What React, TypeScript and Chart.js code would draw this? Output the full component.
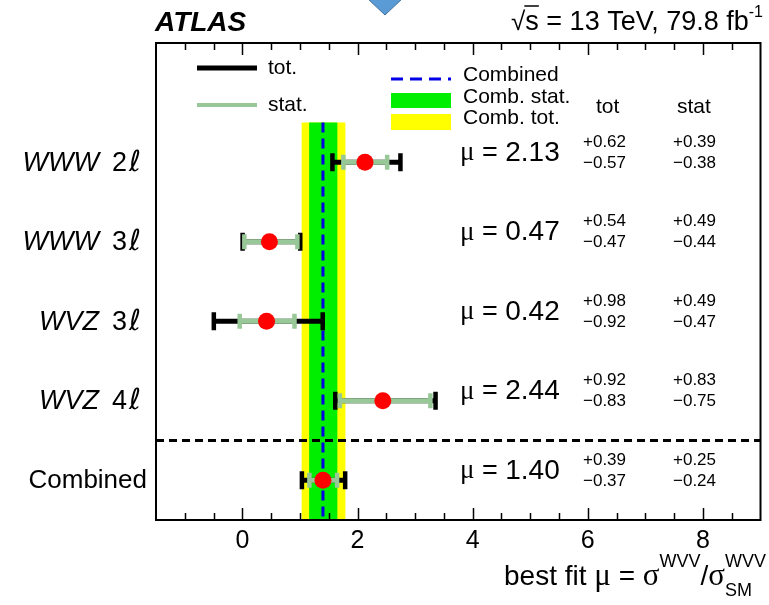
import React, { useEffect, useRef } from 'react';
import { Chart, registerables } from 'chart.js';

Chart.register(...registerables);

// Signal-strength fits per channel (rows from top to bottom)
const channels = ['WWW', 'WWW', 'WVZ', 'WVZ', 'Combined'];
const leptonCounts = ['2', '3', '3', '4', ''];
const rowPos = [4.5, 3.5, 2.5, 1.5, 0.5];
const muValues = [2.13, 0.47, 0.42, 2.44, 1.4];
const totUp = [0.62, 0.54, 0.98, 0.92, 0.39];
const totDown = [0.57, 0.47, 0.92, 0.83, 0.37];
const statUp = [0.39, 0.49, 0.49, 0.83, 0.25];
const statDown = [0.38, 0.44, 0.47, 0.75, 0.24];
const xTicks = [0, 2, 4, 6, 8];
const combinedIndex = 4;
const separatorY = 1;
const bandTop = 5;

const SANS = '"Liberation Sans", Arial, Helvetica, sans-serif';
const SERIF = '"Liberation Serif", "Times New Roman", serif';
const SCRIPT = '"DejaVu Serif", "DejaVu Sans", serif';

const GREEN_BAND = '#00ee00';
const YELLOW_BAND = '#ffff00';
const STAT_COLOR = '#98c898';
const COMB_LINE = '#0000e6';

type Run = { text: string; font: string; dy?: number };

function drawRuns(ctx: CanvasRenderingContext2D, x: number, y: number, runs: Run[], align: 'left' | 'right') {
  ctx.save();
  ctx.textBaseline = 'middle';
  ctx.textAlign = 'left';
  ctx.fillStyle = '#000';
  const widths = runs.map((r) => {
    ctx.font = r.font;
    return ctx.measureText(r.text).width;
  });
  const total = widths.reduce((a, b) => a + b, 0);
  let cx = align === 'right' ? x - total : x;
  const starts: number[] = [];
  runs.forEach((r, i) => {
    ctx.font = r.font;
    starts.push(cx);
    ctx.fillText(r.text, cx, y + (r.dy || 0));
    cx += widths[i];
  });
  ctx.restore();
  return { starts, widths };
}

const fmt = (v: number) => v.toFixed(2);

// Combined bands, separator and per-channel error bars
const bandsAndBars = {
  id: 'bandsAndBars',
  beforeDatasetsDraw(chart: Chart) {
    const { ctx, chartArea } = chart;
    const xs = chart.scales.x;
    const ys = chart.scales.y;
    const c = combinedIndex;
    const yB = ys.getPixelForValue(0);
    const yT = ys.getPixelForValue(bandTop);
    ctx.save();
    // total band
    const tl = xs.getPixelForValue(muValues[c] - totDown[c]);
    const tr = xs.getPixelForValue(muValues[c] + totUp[c]);
    ctx.fillStyle = YELLOW_BAND;
    ctx.fillRect(tl, yT, tr - tl, yB - yT);
    // stat band
    const sl = xs.getPixelForValue(muValues[c] - statDown[c]);
    const sr = xs.getPixelForValue(muValues[c] + statUp[c]);
    ctx.fillStyle = GREEN_BAND;
    ctx.fillRect(sl, yT, sr - sl, yB - yT);
    // combined central value
    const cx = xs.getPixelForValue(muValues[c]);
    ctx.strokeStyle = COMB_LINE;
    ctx.lineWidth = 3;
    ctx.setLineDash([10, 6]);
    ctx.beginPath();
    ctx.moveTo(cx, yT);
    ctx.lineTo(cx, yB);
    ctx.stroke();
    // separator above the combined row
    const sy = ys.getPixelForValue(separatorY);
    ctx.strokeStyle = '#000';
    ctx.lineWidth = 3;
    ctx.setLineDash([8, 5]);
    ctx.beginPath();
    ctx.moveTo(chartArea.left, sy);
    ctx.lineTo(chartArea.right, sy);
    ctx.stroke();
    ctx.setLineDash([]);

    // error bars
    muValues.forEach((mu, i) => {
      const y = ys.getPixelForValue(rowPos[i]);
      const lo = xs.getPixelForValue(mu - totDown[i]);
      const hi = xs.getPixelForValue(mu + totUp[i]);
      ctx.strokeStyle = '#000';
      ctx.lineWidth = 5;
      ctx.beginPath();
      ctx.moveTo(lo, y);
      ctx.lineTo(hi, y);
      ctx.stroke();
      ctx.fillStyle = '#000';
      ctx.fillRect(lo - 2, y - 9, 4.5, 18);
      ctx.fillRect(hi - 2.5, y - 9, 4.5, 18);
      const slo = xs.getPixelForValue(mu - statDown[i]);
      const shi = xs.getPixelForValue(mu + statUp[i]);
      ctx.strokeStyle = STAT_COLOR;
      ctx.lineWidth = 5;
      ctx.beginPath();
      ctx.moveTo(slo, y);
      ctx.lineTo(shi, y);
      ctx.stroke();
      ctx.fillStyle = STAT_COLOR;
      ctx.fillRect(slo - 2, y - 7.5, 4.5, 15);
      ctx.fillRect(shi - 2.5, y - 7.5, 4.5, 15);
    });
    ctx.restore();
  },
};

// Frame with inward ticks, labels and annotations
const frameAndText = {
  id: 'frameAndText',
  afterDatasetsDraw(chart: Chart) {
    const { ctx, chartArea } = chart;
    const xs = chart.scales.x;
    const ys = chart.scales.y;
    const { left, right, top, bottom } = chartArea;
    ctx.save();
    // ticks
    ctx.strokeStyle = '#000';
    ctx.lineWidth = 1.5;
    for (let k = -3; k <= 18; k++) {
      const v = k * 0.5;
      if (v <= xs.min || v >= xs.max) continue;
      const px = Math.round(xs.getPixelForValue(v)) + 0.5;
      const len = v % 2 === 0 ? 12 : 7;
      ctx.beginPath();
      ctx.moveTo(px, bottom);
      ctx.lineTo(px, bottom - len);
      ctx.moveTo(px, top);
      ctx.lineTo(px, top + len);
      ctx.stroke();
    }
    // frame
    ctx.lineWidth = 2;
    ctx.strokeRect(left, top, right - left, bottom - top);

    // title line
    ctx.fillStyle = '#000';
    ctx.textBaseline = 'middle';
    ctx.textAlign = 'left';
    ctx.font = `italic bold 28px ${SANS}`;
    ctx.fillText('ATLAS', 155, 23);
    const t = drawRuns(
      ctx,
      763,
      23,
      [
        { text: '√', font: `26px ${SANS}` },
        { text: 's', font: `27px ${SANS}` },
        { text: ' = 13 TeV, 79.8 fb', font: `27px ${SANS}` },
        { text: '-1', font: `16px ${SANS}`, dy: -10 },
      ],
      'right'
    );
    ctx.lineWidth = 1.5;
    ctx.beginPath();
    ctx.moveTo(t.starts[1] - 1, 6);
    ctx.lineTo(t.starts[1] + t.widths[1], 6);
    ctx.stroke();

    // legend
    ctx.lineWidth = 5;
    ctx.strokeStyle = '#000';
    ctx.beginPath();
    ctx.moveTo(197, 68);
    ctx.lineTo(257, 68);
    ctx.stroke();
    ctx.strokeStyle = STAT_COLOR;
    ctx.lineWidth = 4;
    ctx.beginPath();
    ctx.moveTo(197, 105);
    ctx.lineTo(257, 105);
    ctx.stroke();
    ctx.strokeStyle = COMB_LINE;
    ctx.lineWidth = 3;
    ctx.setLineDash([12, 7]);
    ctx.beginPath();
    ctx.moveTo(391, 79);
    ctx.lineTo(451, 79);
    ctx.stroke();
    ctx.setLineDash([]);
    ctx.fillStyle = GREEN_BAND;
    ctx.fillRect(391, 93, 60, 15);
    ctx.fillStyle = YELLOW_BAND;
    ctx.fillRect(391, 114, 60, 16);
    ctx.fillStyle = '#000';
    ctx.font = `21px ${SANS}`;
    ctx.fillText('tot.', 268, 68);
    ctx.fillText('stat.', 268, 105);
    ctx.fillText('Combined', 463, 75);
    ctx.fillText('Comb. stat.', 463, 97);
    ctx.fillText('Comb. tot.', 463, 118);
    ctx.fillText('tot', 596, 107);
    ctx.fillText('stat', 677, 107);

    // per-row labels and values
    muValues.forEach((mu, i) => {
      const y = ys.getPixelForValue(rowPos[i]);
      if (leptonCounts[i]) {
        ctx.textAlign = 'right';
        ctx.font = `italic 29px ${SCRIPT}`;
        ctx.fillText('ℓ', 141, y + 1);
        const wl = ctx.measureText('ℓ').width;
        ctx.font = `27px ${SANS}`;
        ctx.fillText(leptonCounts[i], 141 - wl - 2, y + 1);
        const wn = ctx.measureText(leptonCounts[i]).width;
        ctx.font = `italic 27px ${SANS}`;
        ctx.fillText(channels[i], 141 - wl - 2 - wn - 13, y + 1);
      } else {
        ctx.font = `26px ${SANS}`;
        ctx.textAlign = 'right';
        ctx.fillText(channels[i], 147, y + 1);
      }
      ctx.textAlign = 'left';
      drawRuns(
        ctx,
        460,
        y - 9,
        [
          { text: 'μ', font: `27px ${SERIF}` },
          { text: ' = ', font: `27px ${SANS}` },
          { text: fmt(mu), font: `28px ${SANS}` },
        ],
        'left'
      );
      ctx.font = `17px ${SANS}`;
      ctx.fillStyle = '#000';
      ctx.textAlign = 'left';
      ctx.fillText('+' + fmt(totUp[i]), 583, y - 20);
      ctx.fillText('\u2212' + fmt(totDown[i]), 583, y + 1);
      ctx.fillText('+' + fmt(statUp[i]), 673, y - 20);
      ctx.fillText('\u2212' + fmt(statDown[i]), 673, y + 1);
    });

    // axis title: best fit mu = sigma^WVV / sigma^WVV_SM
    const main = `28px ${SANS}`;
    const greek = `31px ${SERIF}`;
    const small = `18px ${SANS}`;
    const pieces: { text: string; font: string; dy: number; stackText?: string; stackDy?: number }[] = [
      { text: 'best fit ', font: main, dy: 0 },
      { text: 'μ', font: greek, dy: 0 },
      { text: ' = ', font: main, dy: 0 },
      { text: 'σ', font: greek, dy: 0 },
      { text: 'WVV', font: small, dy: -15 },
      { text: '/', font: main, dy: 0 },
      { text: 'σ', font: greek, dy: 0 },
      { text: 'WVV', font: small, dy: -15, stackText: 'SM', stackDy: 14 },
    ];
    const widths = pieces.map((p) => {
      ctx.font = p.font;
      let w = ctx.measureText(p.text).width;
      if (p.stackText) w = Math.max(w, ctx.measureText(p.stackText).width);
      return w;
    });
    const total = widths.reduce((a, b) => a + b, 0);
    let cx = 766 - total;
    const ty = 577;
    pieces.forEach((p, i) => {
      ctx.font = p.font;
      ctx.fillText(p.text, cx, ty + p.dy);
      if (p.stackText) ctx.fillText(p.stackText, cx, ty + (p.stackDy || 0));
      cx += widths[i];
    });

    // slide marker at the top
    ctx.beginPath();
    ctx.moveTo(367, -2);
    ctx.lineTo(403, -2);
    ctx.lineTo(385, 15);
    ctx.closePath();
    ctx.fillStyle = '#5b9bd5';
    ctx.fill();
    ctx.strokeStyle = '#41719c';
    ctx.lineWidth = 1;
    ctx.stroke();
    ctx.restore();
  },
};

export default function App() {
  const canvasRef = useRef<HTMLCanvasElement | null>(null);

  useEffect(() => {
    const canvas = canvasRef.current;
    if (!canvas) return;
    const chart = new Chart(canvas, {
      type: 'scatter',
      data: {
        datasets: [
          {
            label: 'best fit',
            data: muValues.map((mu, i) => ({ x: mu, y: rowPos[i] })),
            pointRadius: 8.5,
            pointHoverRadius: 8.5,
            backgroundColor: '#ff0000',
            borderWidth: 0,
          },
        ],
      },
      options: {
        responsive: false,
        animation: false,
        events: [],
        layout: { padding: { left: 156, right: 5, top: 43, bottom: 0 } },
        plugins: { legend: { display: false }, tooltip: { enabled: false } },
        scales: {
          x: {
            type: 'linear',
            min: -1.5,
            max: 9,
            afterBuildTicks: (s: any) => {
              s.ticks = xTicks.map((v) => ({ value: v }));
            },
            afterFit: (s: any) => {
              s.height = 85;
            },
            grid: { display: false, drawTicks: false },
            border: { display: false },
            ticks: {
              font: { size: 25, family: SANS },
              color: '#000',
              padding: 6,
              maxRotation: 0,
              autoSkip: false,
            },
          },
          y: { type: 'linear', min: 0, max: 6, display: false },
        },
      },
      plugins: [bandsAndBars, frameAndText],
    });
    return () => chart.destroy();
  }, []);

  return (
    <canvas
      ref={canvasRef}
      width={769}
      height={605}
      style={{ position: 'fixed', left: 0, top: 0, width: 769, height: 605 }}
    />
  );
}
